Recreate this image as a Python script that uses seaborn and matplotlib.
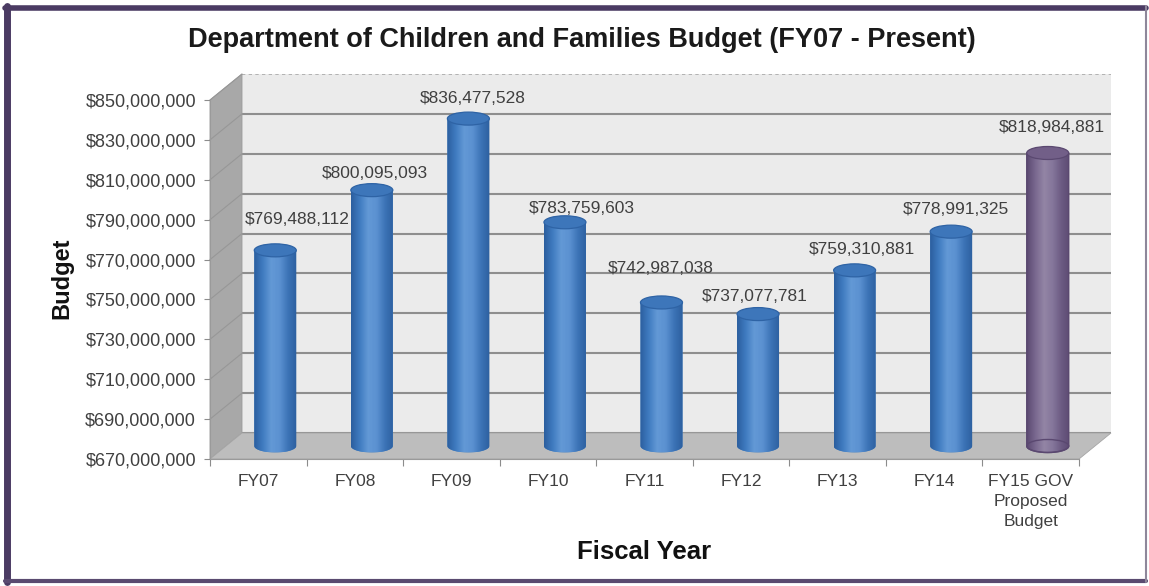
import numpy as np
import pandas as pd
import matplotlib
matplotlib.use("Agg")
import matplotlib.pyplot as plt
import seaborn as sns
from matplotlib.patches import Ellipse, Polygon
from matplotlib.lines import Line2D
from matplotlib.colors import LinearSegmentedColormap
from matplotlib.ticker import FixedLocator, FuncFormatter

# ---- data -------------------------------------------------------------
years = ["FY07", "FY08", "FY09", "FY10", "FY11", "FY12", "FY13", "FY14",
         "FY15 GOV\nProposed\nBudget"]
budget = [769488112, 800095093, 836477528, 783759603, 742987038,
          737077781, 759310881, 778991325, 818984881]
kinds = ["Enacted"] * 8 + ["Proposed"]

y_min, y_max, y_step = 670_000_000, 850_000_000, 20_000_000

title = "Department of Children and Families Budget (FY07 - Present)"
x_title = "Fiscal Year"
y_title = "Budget"

# ---- layout (pixels) --------------------------------------------------
W, H = 1149, 586
FRONT = (210, 100, 1079, 459)      # left, top, right, bottom of the front plane
DEPTH = (32, -26)                  # shift from the front plane to the back wall
MIDP = (227, 92, 1096, 446)        # plane through the cylinder axes
CAP_PX = 13                        # height of the elliptical caps
BAR_WIDTH = 0.435
# label offsets (px): right, up from the cylinder top
label_nudge = [(22, 31), (3, 17), (4, 20), (17, 14), (-1, 34),
               (-3, 18), (7, 21), (5, 22), (4, 25)]

palette = {"Enacted": "#4A86C8", "Proposed": "#8676A0"}
cyl_style = {
    "Enacted": dict(stops=["#2B5E9E", "#3F7BC0", "#6399D6", "#5B91D1",
                           "#3C73B6", "#2C5F9F"],
                    cap="#3D76BA", rim="#2E63A5", outline=None),
    "Proposed": dict(stops=["#5C4A72", "#7A6990", "#9385A5", "#85769B",
                            "#6C5B83", "#5C4A72"],
                     cap="#725F88", rim="#5A4870", outline="#5A4870"),
}

sns.set_theme(style="white")
plt.rcParams["font.family"] = ["Liberation Sans", "DejaVu Sans"]

fig = plt.figure(figsize=(W / 100, H / 100), dpi=100)
fig.patch.set_facecolor("white")


def frac_rect(left, top, right, bottom):
    return [left / W, 1 - bottom / H, (right - left) / W, (bottom - top) / H]


def fpt(x, y):
    return (x / W, 1 - y / H)


def shifted(box, d):
    return (box[0] + d[0], box[1] + d[1], box[2] + d[0], box[3] + d[1])


BACK = shifted(FRONT, DEPTH)
ticks = np.arange(y_min, y_max + 1, y_step)
mid_h = MIDP[3] - MIDP[1]
eh = CAP_PX * (y_max - y_min) / mid_h   # cap height in data units


def y_px(v, box):
    return box[3] - (v - y_min) / (y_max - y_min) * (box[3] - box[1])


# ---- back wall --------------------------------------------------------
axb = fig.add_axes(frac_rect(*BACK), facecolor="#EBEBEB", zorder=-3)
axb.set_xlim(0, 1)
axb.set_ylim(y_min, y_max)
for t in ticks[:-1]:
    axb.axhline(t, color="#8E8E8E", lw=1.5)
axb.axhline(y_max, color="#A8A8A8", lw=1.2, ls=(0, (2, 2)))
axb.set_xticks([])
axb.set_yticks([])
for s in axb.spines.values():
    s.set_visible(False)

# ---- side wall and floor ----------------------------------------------
side = [fpt(FRONT[0], FRONT[1]), fpt(BACK[0], BACK[1]),
        fpt(BACK[0], BACK[3]), fpt(FRONT[0], FRONT[3])]
floor = [fpt(FRONT[0], FRONT[3]), fpt(FRONT[2], FRONT[3]),
         fpt(BACK[2], BACK[3]), fpt(BACK[0], BACK[3])]
fig.add_artist(Polygon(side, closed=True, transform=fig.transFigure,
                       facecolor="#A8A8A8", edgecolor="#9A9A9A", lw=0.6,
                       zorder=-2))
fig.add_artist(Polygon(floor, closed=True, transform=fig.transFigure,
                       facecolor="#BDBDBD", edgecolor="#A5A5A5", lw=0.6,
                       zorder=-2))
for t in ticks[1:]:
    p0 = fpt(FRONT[0], y_px(t, FRONT))
    p1 = fpt(BACK[0], y_px(t, BACK))
    fig.add_artist(Line2D([p0[0], p1[0]], [p0[1], p1[1]],
                          transform=fig.transFigure, color="#979797",
                          lw=0.8, zorder=-1.5))

# ---- cylinders --------------------------------------------------------
# the cylinder plane reaches one cap height below the floor so the
# rounded bottoms stay inside the axes
df = pd.DataFrame({"year": years, "budget": budget, "kind": kinds})
ax = fig.add_axes(frac_rect(MIDP[0], MIDP[1], MIDP[2], MIDP[3] + CAP_PX),
                  facecolor="none", zorder=1)
sns.barplot(data=df, x="year", y="budget", hue="kind", palette=palette,
            dodge=False, width=BAR_WIDTH, saturation=1, legend=False,
            linewidth=0, ax=ax)
ax.set_autoscale_on(False)
ax.set_xlim(-0.5, len(years) - 0.5)
ax.set_ylim(y_min - eh, y_max)
ax.set_axis_off()

theta = np.linspace(np.pi, 2 * np.pi, 48)

for bar in list(ax.patches):
    w = bar.get_width()
    cx = bar.get_x() + w / 2
    top = bar.get_height()
    i = int(round(cx))
    st = cyl_style[kinds[i]]
    cmap = LinearSegmentedColormap.from_list("cyl", st["stops"])
    grad = cmap(np.linspace(0, 1, 128))[None, :, :]

    arc_x = cx + w / 2 * np.cos(theta)
    arc_y = y_min + eh / 2 * np.sin(theta)
    outline = [(cx - w / 2, top)] + list(zip(arc_x, arc_y)) + [(cx + w / 2, top)]
    clip = Polygon(outline, closed=True, transform=ax.transData)
    bar.set_clip_path(clip)

    img = ax.imshow(grad, extent=(cx - w / 2, cx + w / 2, y_min - eh / 2, top),
                    aspect="auto", interpolation="bilinear", zorder=3)
    img.set_clip_path(clip)

    if st["outline"]:
        ax.add_patch(Polygon(outline, closed=True, facecolor="none",
                             edgecolor=st["outline"], lw=1.0, zorder=3.5,
                             clip_on=False))
        ax.add_patch(Ellipse((cx, y_min), w, eh, facecolor="none",
                             edgecolor=st["outline"], lw=1.0, zorder=3.5,
                             clip_on=False))
    ax.add_patch(Ellipse((cx, top), w, eh, facecolor=st["cap"],
                         edgecolor=st["rim"], lw=0.9, zorder=4,
                         clip_on=False))

    dx, dy = label_nudge[i]
    ax.annotate(f"${budget[i]:,.0f}", xy=(cx, top),
                xytext=(dx * 0.72, dy * 0.72), textcoords="offset points",
                ha="center", va="center", fontsize=12.5, color="#404040",
                zorder=5, annotation_clip=False)

ax.set_xlim(-0.5, len(years) - 0.5)
ax.set_ylim(y_min - eh, y_max)

# ---- front axes: ticks and labels -------------------------------------
axf = fig.add_axes(frac_rect(*FRONT), facecolor="none", zorder=2)
axf.set_xlim(-0.5, len(years) - 0.5)
axf.set_ylim(y_min, y_max)
axf.set_xticks(range(len(years)), labels=years)
axf.set_xticks(np.arange(-0.5, len(years)), minor=True)
axf.yaxis.set_major_locator(FixedLocator(ticks))
axf.yaxis.set_major_formatter(FuncFormatter(lambda v, _: f"${v:,.0f}"))
axf.tick_params(axis="x", which="major", bottom=True, length=0, pad=10.5,
                labelsize=12.5, labelcolor="#404040")
axf.tick_params(axis="x", which="minor", bottom=True, length=5,
                color="#8C8C8C", width=0.8)
axf.tick_params(axis="y", left=True, length=4, color="#8C8C8C", width=0.8,
                pad=6, labelsize=13, labelcolor="#404040")
for lab in axf.get_xticklabels():
    lab.set_linespacing(1.45)
for side_name in ("top", "right"):
    axf.spines[side_name].set_visible(False)
for side_name in ("left", "bottom"):
    axf.spines[side_name].set_color("#9A9A9A")
    axf.spines[side_name].set_linewidth(0.8)

# ---- titles -----------------------------------------------------------
fig.text(582 / W, 1 - 40 / H, title, ha="center", va="center",
         fontsize=19.5, fontweight="bold", color="#1A1A1A")
fig.text(644 / W, 1 - 552 / H, x_title, ha="center", va="center",
         fontsize=18.5, fontweight="bold", color="#111111")
fig.text(62 / W, 1 - 278 / H, y_title, ha="center", va="center",
         rotation=90, fontsize=17, fontweight="bold", color="#111111")

# ---- frame ------------------------------------------------------------
frame = [((7, 6), (7, 582), 5.0, "#4B3B63"),
         ((5, 8), (1146, 8), 4.0, "#4B3B63"),
         ((5, 581), (1146, 581), 3.0, "#5A4A70"),
         ((1146, 6), (1146, 582), 1.5, "#8E879A")]
for p0, p1, lw, col in frame:
    a, b = fpt(*p0), fpt(*p1)
    fig.add_artist(Line2D([a[0], b[0]], [a[1], b[1]], transform=fig.transFigure,
                          color=col, lw=lw, zorder=10))

fig.savefig("out.png", dpi=100)
